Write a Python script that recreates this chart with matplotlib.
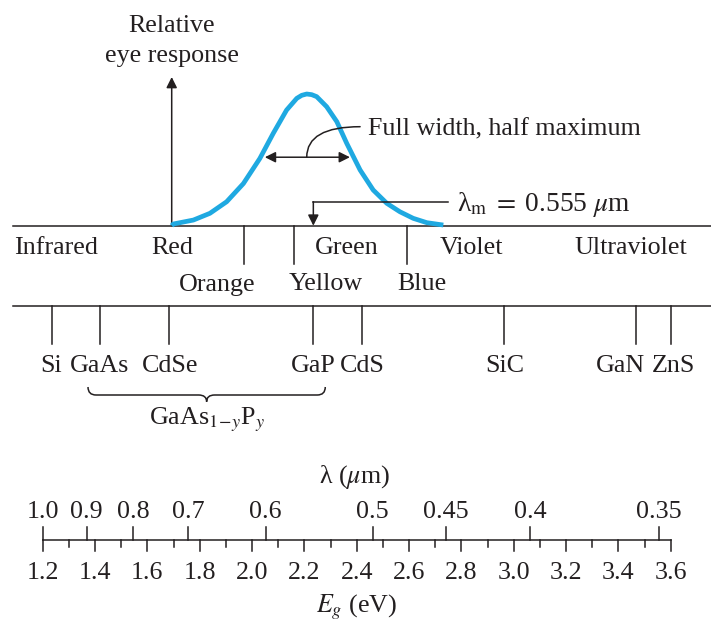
import matplotlib
matplotlib.use('Agg')
import matplotlib.pyplot as plt
from matplotlib.path import Path
from matplotlib.patches import PathPatch

plt.rcParams['font.family'] = ['Liberation Serif', 'DejaVu Serif']
plt.rcParams['mathtext.fontset'] = 'stix'

# 目の比感度曲線 (光子エネルギー eV, 相対値)
eye_E = [1.693, 1.699, 1.776, 1.839, 1.903, 1.967, 2.030, 2.081, 2.132, 2.171, 2.190,
         2.209, 2.228, 2.247, 2.285, 2.324, 2.362, 2.413, 2.463, 2.515, 2.565, 2.616,
         2.668, 2.731]
eye_r = [0.0, 0.013, 0.043, 0.094, 0.182, 0.320, 0.511, 0.701, 0.878, 0.967, 0.990,
         1.0, 0.995, 0.980, 0.904, 0.790, 0.625, 0.423, 0.271, 0.170, 0.106, 0.056,
         0.023, 0.005]
fwhm_E = [2.049, 2.374]
fwhm_level = 0.52
lam_m = 0.555
hc = 1.24  # eV um

# 色の帯
band_ticks_E = [1.970, 2.162, 2.593]
band_names = ['Infrared', 'Red', 'Green', 'Violet', 'Ultraviolet', 'Orange', 'Yellow', 'Blue']
band_label_E = [1.251, 1.694, 2.363, 2.840, 3.446, 1.868, 2.283, 2.649]
band_row = [0, 0, 0, 0, 0, 1, 1, 1]

# 半導体のバンドギャップ
mat_names = ['Si', 'GaAs', 'CdSe', 'GaP', 'CdS', 'SiC', 'GaN', 'ZnS']
mat_Eg = [1.234, 1.419, 1.684, 2.234, 2.421, 2.963, 3.468, 3.600]
mat_label_E = [1.232, 1.419, 1.688, 2.234, 2.420, 2.967, 3.407, 3.609]

# 目盛り
eg_ticks = [1.2, 1.3, 1.4, 1.5, 1.6, 1.7, 1.8, 1.9, 2.0, 2.1, 2.2, 2.3, 2.4, 2.5,
            2.6, 2.7, 2.8, 2.9, 3.0, 3.1, 3.2, 3.3, 3.4, 3.5, 3.6]
eg_labels = ['1.2', '1.4', '1.6', '1.8', '2.0', '2.2', '2.4', '2.6', '2.8', '3.0',
             '3.2', '3.4', '3.6']
lam_labels = ['1.0', '0.9', '0.8', '0.7', '0.6', '0.5', '0.45', '0.4', '0.35']
lam_E = [1.2, 1.368, 1.546, 1.756, 2.052, 2.461, 2.740, 3.063, 3.554]

ink = '#231f20'
blue = '#1fa9e1'
fs = 18.7
lw = 1.1

W, H = 711, 624
px_per_eV = 261.67
E_left = 1.2 - 42.7 / px_per_eV
E_right = E_left + W / px_per_eV

fig = plt.figure(figsize=(W / 100, H / 100), dpi=100)
ax = fig.add_axes([0, 0, 1, 1])
ax.set_xlim(E_left, E_right)
ax.set_ylim(H, 0)
ax.axis('off')

# 曲線用のax (y: 0-1)
y_base, y_peak = 225.7, 94.0
axc = fig.add_axes([0, 1 - y_base / H, 1, (y_base - y_peak) / H])
axc.set_xlim(E_left, E_right)
axc.set_ylim(0, 1)
axc.axis('off')
axc.patch.set_alpha(0)

def r_of(y):
    return (y_base - y) / (y_base - y_peak)

axc.plot(eye_E, eye_r, color=blue, lw=3.4, solid_capstyle='butt',
         solid_joinstyle='round', clip_on=False)

# 縦軸の矢印
ax.annotate('', xy=(eye_E[0], 77), xytext=(eye_E[0], y_base),
            arrowprops=dict(arrowstyle='-|>', color=ink, lw=lw, mutation_scale=16,
                            shrinkA=0, shrinkB=0))
ax.text(eye_E[0], 31.7, 'Relative', ha='center', va='baseline', fontsize=fs, color=ink)
ax.text(eye_E[0], 61.7, 'eye response', ha='center', va='baseline', fontsize=fs, color=ink)

# 半値全幅
axc.annotate('', xy=(fwhm_E[1], fwhm_level), xytext=(fwhm_E[0], fwhm_level),
             arrowprops=dict(arrowstyle='<|-|>', color=ink, lw=lw, mutation_scale=16,
                             shrinkA=0, shrinkB=0))
fwhm_mid = 2.209
axc.annotate('', xy=(fwhm_mid, fwhm_level), xytext=(2.413, r_of(126.7)),
             arrowprops=dict(arrowstyle='-', color=ink, lw=lw, shrinkA=0, shrinkB=0,
                             connectionstyle='angle3,angleA=0,angleB=90'))
axc.text(2.444, r_of(135), 'Full width, half maximum', ha='left', va='baseline',
         fontsize=fs, color=ink)

# λm
E_m = hc / lam_m
r_m = r_of(201.7)
axc.plot([2.750, E_m], [r_m, r_m], color=ink, lw=lw)
axc.annotate('', xy=(E_m, 0), xytext=(E_m, r_m),
             arrowprops=dict(arrowstyle='-|>', color=ink, lw=lw, mutation_scale=16,
                             shrinkA=0, shrinkB=0))
axc.text(2.782, r_of(210.7), 'λ$_\\mathrm{m}\\;=\\;$0.555 $\\mu$m', ha='left', va='baseline',
         fontsize=19.8, color=ink)

# 色の帯
line_left = 1.085
ax.plot([line_left, E_right], [y_base, y_base], color=ink, lw=lw)
for e in band_ticks_E:
    ax.plot([e, e], [y_base, 264], color=ink, lw=lw)
for name, e, row in zip(band_names, band_label_E, band_row):
    ax.text(e, [254.3, 290.5][row], name, ha='center', va='baseline', fontsize=fs, color=ink)

# 材料
y_mat = 305.7
ax.plot([line_left, E_right], [y_mat, y_mat], color=ink, lw=lw)
for e in mat_Eg:
    ax.plot([e, e], [y_mat, 344], color=ink, lw=lw)
for name, e in zip(mat_names, mat_label_E):
    ax.text(e, 372.3, name, ha='center', va='baseline', fontsize=fs, color=ink)

# GaAs1-yPy の括弧
pad = 12 / px_per_eV
dx = 8 / px_per_eV
xl = mat_Eg[1] - pad
xr = mat_Eg[3] + pad
xm = (xl + xr) / 2
yt, yh, yc = 387, 395, 401.7
verts = [(xl, yt), (xl, yh), (xl + dx, yh),
         (xm - dx, yh),
         (xm, yh), (xm, yc),
         (xm, yh), (xm + dx, yh),
         (xr - dx, yh),
         (xr, yh), (xr, yt)]
codes = [Path.MOVETO, Path.CURVE3, Path.CURVE3,
         Path.LINETO,
         Path.CURVE3, Path.CURVE3,
         Path.CURVE3, Path.CURVE3,
         Path.LINETO,
         Path.CURVE3, Path.CURVE3]
ax.add_patch(PathPatch(Path(verts, codes), fill=False, edgecolor=ink, lw=lw))
ax.text(xm, 424, 'GaAs$_{1\\!-\\!y}$P$_y$', ha='center', va='baseline', fontsize=fs, color=ink)

# λ と Eg の目盛り
y_sc = 540
ax.plot([eg_ticks[0], eg_ticks[-1]], [y_sc, y_sc], color=ink, lw=lw)
for i, e in enumerate(eg_ticks):
    ln = 10.7 if i % 2 == 0 else 6.7
    ax.plot([e, e], [y_sc, y_sc + ln], color=ink, lw=lw)
for i, lab in enumerate(eg_labels):
    ax.text(eg_ticks[2 * i], 579, lab, ha='center', va='baseline', fontsize=fs, color=ink)
for e, lab in zip(lam_E, lam_labels):
    ax.plot([e, e], [y_sc, y_sc - 12.7], color=ink, lw=lw)
    ax.text(e, 517.5, lab, ha='center', va='baseline', fontsize=fs, color=ink)

ax.text(2.394, 483, 'λ ($\\mu$m)', ha='center', va='baseline', fontsize=fs, color=ink)
ax.text(2.400, 612.3, '$E_g$ (eV)', ha='center', va='baseline', fontsize=fs, color=ink)

fig.savefig('out.png', dpi=100)
